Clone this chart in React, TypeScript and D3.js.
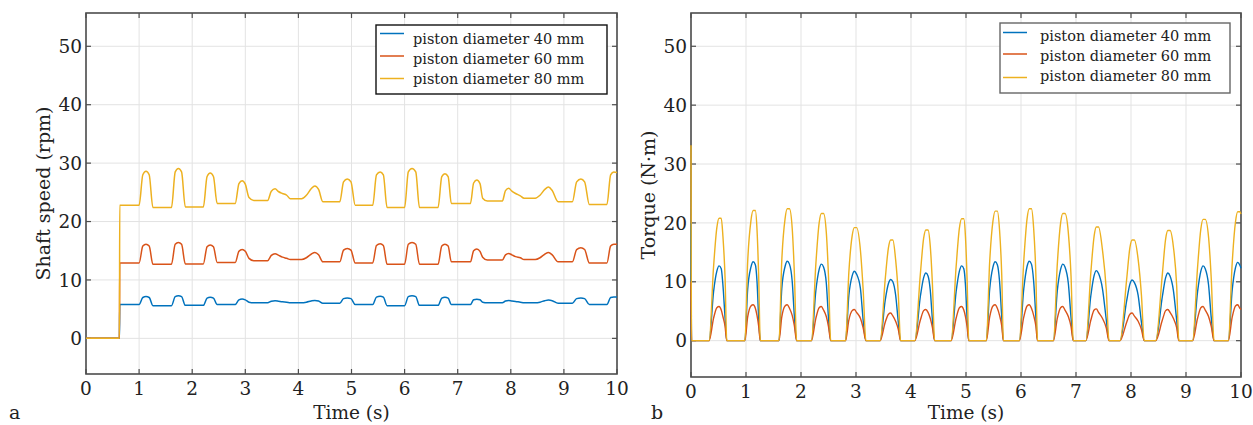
import React from 'react';
import * as d3 from 'd3';

const timeTicks = [0, 1, 2, 3, 4, 5, 6, 7, 8, 9, 10];
const valueTicks = [0, 10, 20, 30, 40, 50];
const seriesNames = ['piston diameter 40 mm', 'piston diameter 60 mm', 'piston diameter 80 mm'];
const seriesColors = ['#0072BD', '#D95319', '#EDB120'];

// Panel a: shaft speed (rpm)
const speedTime = [
  0, 0.63, 0.635,
  1.00, 1.07, 1.13, 1.19, 1.26,
  1.61, 1.68, 1.74, 1.80, 1.87,
  2.21, 2.28, 2.34, 2.40, 2.47,
  2.81, 2.88, 2.94, 3.00, 3.07, 3.16,
  3.42, 3.49, 3.56, 3.63, 3.70, 3.78, 3.85,
  4.06, 4.15, 4.24, 4.31, 4.38, 4.46,
  4.78, 4.85, 4.92, 4.99, 5.07,
  5.40, 5.47, 5.54, 5.60, 5.67,
  6.00, 6.07, 6.14, 6.21, 6.28,
  6.63, 6.70, 6.76, 6.82, 6.88,
  7.24, 7.30, 7.36, 7.42, 7.47, 7.56,
  7.84, 7.90, 7.96, 8.02, 8.09, 8.18, 8.25,
  8.46, 8.55, 8.64, 8.71, 8.78, 8.89,
  9.16, 9.24, 9.32, 9.39, 9.48,
  9.81, 9.88, 9.94, 10.0,
];
const speed40 = [
  0, 0, 5.8,
  5.8, 7.0, 7.15, 7.0, 5.6,
  5.6, 7.15, 7.3, 7.15, 5.65,
  5.65, 6.9, 7.05, 6.9, 5.8,
  5.8, 6.6, 6.75, 6.6, 6.2, 6.1,
  6.1, 6.35, 6.45, 6.35, 6.25, 6.2, 6.1,
  6.1, 6.2, 6.4, 6.5, 6.4, 6.0,
  6.0, 6.8, 6.9, 6.8, 5.8,
  5.8, 7.05, 7.2, 7.05, 5.6,
  5.6, 7.15, 7.3, 7.15, 5.65,
  5.65, 6.9, 7.05, 6.9, 5.8,
  5.8, 6.6, 6.7, 6.6, 6.2, 6.1,
  6.1, 6.4, 6.5, 6.4, 6.3, 6.2, 6.1,
  6.1, 6.2, 6.45, 6.55, 6.45, 6.0,
  6.0, 6.8, 6.9, 6.8, 5.8,
  5.8, 7.0, 7.1, 7.1,
];
const speed60 = [
  0, 0, 12.9,
  12.9, 15.8, 16.1, 15.8, 12.7,
  12.7, 16.1, 16.4, 16.1, 12.75,
  12.75, 15.7, 16.0, 15.7, 13.0,
  13.0, 14.9, 15.2, 14.9, 13.7, 13.3,
  13.3, 14.2, 14.5, 14.2, 13.9, 13.7, 13.5,
  13.5, 13.8, 14.4, 14.7, 14.3, 13.1,
  13.1, 15.1, 15.4, 15.1, 12.9,
  12.9, 15.9, 16.2, 15.9, 12.7,
  12.7, 16.1, 16.4, 16.1, 12.7,
  12.7, 15.8, 16.1, 15.8, 13.1,
  13.1, 15.0, 15.3, 14.9, 13.9, 13.4,
  13.4, 14.3, 14.55, 14.3, 14.0, 13.8, 13.5,
  13.5, 13.8, 14.4, 14.7, 14.3, 13.1,
  13.1, 15.2, 15.5, 15.2, 12.9,
  12.9, 15.8, 16.1, 16.1,
];
const speed80 = [
  0, 0, 22.8,
  22.8, 28.0, 28.6, 28.0, 22.4,
  22.4, 28.5, 29.1, 28.5, 22.5,
  22.5, 27.7, 28.3, 27.7, 23.1,
  23.1, 26.5, 27.0, 26.4, 24.1, 23.6,
  23.6, 25.2, 25.6, 25.1, 24.8, 24.5, 23.9,
  23.9, 24.5, 25.6, 26.1, 25.5, 23.4,
  23.4, 26.8, 27.3, 26.8, 22.8,
  22.8, 28.0, 28.5, 28.0, 22.4,
  22.4, 28.5, 29.1, 28.5, 22.4,
  22.4, 27.7, 28.2, 27.7, 23.1,
  23.1, 26.6, 27.1, 26.5, 24.0, 23.5,
  23.5, 25.3, 25.7, 25.2, 24.8, 24.4, 24.0,
  24.0, 24.5, 25.5, 25.9, 25.3, 23.4,
  23.4, 26.8, 27.3, 26.8, 22.9,
  22.9, 28.0, 28.5, 28.4,
];

// Panel b: torque (N·m)
const torqueTime = [
  0, 0.01,
  0.33, 0.41, 0.47, 0.51, 0.55, 0.58, 0.62, 0.65,
  0.98, 1.03, 1.09, 1.13, 1.17, 1.20, 1.23, 1.26,
  1.60, 1.65, 1.71, 1.75, 1.79, 1.84, 1.88, 1.92,
  2.19, 2.27, 2.33, 2.37, 2.41, 2.46, 2.50, 2.54,
  2.81, 2.87, 2.93, 2.97, 3.01, 3.08, 3.13, 3.18,
  3.44, 3.53, 3.59, 3.63, 3.67, 3.72, 3.77, 3.81,
  4.07, 4.17, 4.23, 4.27, 4.31, 4.35, 4.39, 4.43,
  4.73, 4.82, 4.88, 4.92, 4.96, 4.99, 5.02, 5.05,
  5.37, 5.43, 5.49, 5.53, 5.57, 5.61, 5.65, 5.68,
  5.97, 6.05, 6.11, 6.15, 6.19, 6.23, 6.27, 6.30,
  6.59, 6.66, 6.72, 6.76, 6.80, 6.86, 6.91, 6.95,
  7.18, 7.27, 7.33, 7.37, 7.41, 7.48, 7.55, 7.60,
  7.80, 7.92, 7.98, 8.02, 8.06, 8.13, 8.19, 8.24,
  8.45, 8.57, 8.63, 8.67, 8.71, 8.77, 8.83, 8.87,
  9.12, 9.21, 9.27, 9.31, 9.35, 9.41, 9.46, 9.51,
  9.77, 9.84, 9.90, 9.94, 9.98, 10.0,
];
const torque40 = [
  20, 0,
  0, 8.3, 11.8, 12.7, 12.2, 9.5, 3.8, 0,
  0, 8.7, 12.5, 13.4, 12.9, 10.1, 4.0, 0,
  0, 8.8, 12.6, 13.5, 13.0, 10.1, 4.1, 0,
  0, 8.5, 12.1, 13.0, 12.5, 9.8, 3.9, 0,
  0, 7.7, 11.0, 11.8, 11.3, 8.9, 3.5, 0,
  0, 6.8, 9.7, 10.4, 10.0, 7.8, 3.1, 0,
  0, 7.5, 10.7, 11.5, 11.0, 8.6, 3.5, 0,
  0, 8.3, 11.8, 12.7, 12.2, 9.5, 3.8, 0,
  0, 8.7, 12.5, 13.4, 12.9, 10.1, 4.0, 0,
  0, 8.8, 12.6, 13.5, 13.0, 10.1, 4.1, 0,
  0, 8.5, 12.1, 13.0, 12.5, 9.8, 3.9, 0,
  0, 7.7, 11.1, 11.9, 11.4, 8.9, 3.6, 0,
  0, 6.7, 9.6, 10.3, 9.9, 7.7, 3.1, 0,
  0, 7.5, 10.7, 11.5, 11.0, 8.6, 3.5, 0,
  0, 8.3, 11.8, 12.7, 12.2, 9.5, 3.8, 0,
  0, 8.6, 12.4, 13.3, 12.8, 12.3,
];
const torque60 = [
  10, 0,
  0, 3.8, 5.6, 5.8, 5.2, 4.1, 2.4, 0,
  0, 4.0, 5.9, 6.1, 5.5, 4.3, 2.5, 0,
  0, 4.0, 5.9, 6.1, 5.5, 4.3, 2.5, 0,
  0, 3.8, 5.6, 5.8, 5.2, 4.1, 2.4, 0,
  0, 3.5, 5.1, 5.3, 4.8, 3.8, 2.2, 0,
  0, 3.1, 4.5, 4.7, 4.2, 3.3, 1.9, 0,
  0, 3.5, 5.1, 5.3, 4.8, 3.8, 2.2, 0,
  0, 3.8, 5.6, 5.8, 5.2, 4.1, 2.4, 0,
  0, 4.0, 5.9, 6.1, 5.5, 4.3, 2.5, 0,
  0, 4.0, 5.9, 6.1, 5.5, 4.3, 2.5, 0,
  0, 3.8, 5.6, 5.8, 5.2, 4.1, 2.4, 0,
  0, 3.5, 5.2, 5.4, 4.8, 3.8, 2.2, 0,
  0, 3.1, 4.5, 4.7, 4.2, 3.3, 1.9, 0,
  0, 3.5, 5.1, 5.3, 4.8, 3.8, 2.2, 0,
  0, 3.8, 5.6, 5.8, 5.2, 4.1, 2.4, 0,
  0, 4.0, 5.9, 6.1, 5.5, 5.3,
];
const torque80 = [
  33.2, 0,
  0, 12.5, 19.2, 20.8, 20.8, 17.8, 10.5, 0,
  0, 13.3, 20.4, 22.1, 22.1, 18.9, 11.1, 0,
  0, 13.5, 20.7, 22.4, 22.4, 19.1, 11.3, 0,
  0, 13.0, 20.0, 21.6, 21.6, 18.4, 10.9, 0,
  0, 11.6, 17.8, 19.2, 19.2, 15.4, 8.7, 0,
  0, 10.3, 15.8, 17.1, 17.1, 13.8, 7.7, 0,
  0, 11.3, 17.4, 18.8, 18.8, 16.1, 9.5, 0,
  0, 12.5, 19.1, 20.7, 20.7, 17.7, 10.4, 0,
  0, 13.3, 20.3, 22.0, 22.0, 18.8, 11.1, 0,
  0, 13.5, 20.7, 22.4, 22.4, 19.1, 11.3, 0,
  0, 13.0, 20.0, 21.6, 21.6, 18.4, 10.9, 0,
  0, 11.6, 17.8, 19.3, 19.3, 15.5, 8.7, 0,
  0, 10.3, 15.8, 17.1, 17.1, 13.8, 7.7, 0,
  0, 11.3, 17.3, 18.7, 18.7, 16.0, 9.4, 0,
  0, 12.4, 19.0, 20.6, 20.6, 17.6, 10.4, 0,
  0, 13.2, 20.2, 21.9, 21.9, 21.5,
];

const FONT = '"DejaVu Serif", serif';

type PanelProps = {
  left: number; right: number; top: number; bottom: number;
  yDomain: [number, number];
  time: number[];
  series: number[][];
  yTitle: string;
  letter: string;
  letterX: number;
  legend: { x: number; y: number; w: number; h: number; stroke: string; lineX1: number; lineX2: number; textX: number; lineY: number[]; textY: number[] };
  lineWidth: number;
};

function Panel(p: PanelProps) {
  const x = d3.scaleLinear().domain([0, 10]).range([p.left, p.right]);
  const y = d3.scaleLinear().domain(p.yDomain).range([p.bottom, p.top]);
  const line = d3.line<number>()
    .x((_, i) => x(p.time[i]))
    .y((d) => y(d))
    .curve(d3.curveMonotoneX);
  const tick = 5;
  const axisColor = '#4d4d4d';
  return (
    <g>
      {timeTicks.map((t) => (
        <line key={'gx' + t} x1={x(t)} x2={x(t)} y1={p.top} y2={p.bottom} stroke="#e3e3e3" strokeWidth={1} />
      ))}
      {valueTicks.map((v) => (
        <line key={'gy' + v} x1={p.left} x2={p.right} y1={y(v)} y2={y(v)} stroke="#e3e3e3" strokeWidth={1} />
      ))}
      <rect x={p.left} y={p.top} width={p.right - p.left} height={p.bottom - p.top} fill="none" stroke={axisColor} strokeWidth={1.6} />
      {timeTicks.map((t) => (
        <g key={'tx' + t}>
          <line x1={x(t)} x2={x(t)} y1={p.bottom} y2={p.bottom - tick} stroke={axisColor} strokeWidth={1.2} />
          <line x1={x(t)} x2={x(t)} y1={p.top} y2={p.top + tick} stroke={axisColor} strokeWidth={1.2} />
          <text x={x(t)} y={p.bottom + 21} textAnchor="middle" fontFamily={FONT} fontSize={18.5} fill="#222">{t}</text>
        </g>
      ))}
      {valueTicks.map((v) => (
        <g key={'ty' + v}>
          <line x1={p.left} x2={p.left + tick} y1={y(v)} y2={y(v)} stroke={axisColor} strokeWidth={1.2} />
          <line x1={p.right} x2={p.right - tick} y1={y(v)} y2={y(v)} stroke={axisColor} strokeWidth={1.2} />
          <text x={p.left - 4} y={y(v)} dy="0.36em" textAnchor="end" fontFamily={FONT} fontSize={18.5} fill="#222">{v}</text>
        </g>
      ))}
      {p.series.map((s, i) => (
        <path key={'s' + i} d={line(s) || ''} fill="none" stroke={seriesColors[i]} strokeWidth={p.lineWidth} strokeLinejoin="round" />
      ))}
      <text x={(p.left + p.right) / 2} y={419} textAnchor="middle" fontFamily={FONT} fontSize={18.5} fill="#222">Time (s)</text>
      <text transform={`translate(${p.left - 36},${(p.top + p.bottom) / 2}) rotate(-90)`} textAnchor="middle" fontFamily={FONT} fontSize={19} fill="#222">{p.yTitle}</text>
      <text x={p.letterX} y={419} fontFamily={FONT} fontSize={19} fill="#222">{p.letter}</text>
      <rect x={p.legend.x} y={p.legend.y} width={p.legend.w} height={p.legend.h} fill="#fff" stroke={p.legend.stroke} strokeWidth={1.4} />
      {seriesNames.map((n, i) => (
        <g key={'lg' + i}>
          <line x1={p.legend.lineX1} x2={p.legend.lineX2} y1={p.legend.lineY[i]} y2={p.legend.lineY[i]} stroke={seriesColors[i]} strokeWidth={1.5} />
          <text x={p.legend.textX} y={p.legend.textY[i]} fontFamily={FONT} fontSize={14.5} fill="#222">{n}</text>
        </g>
      ))}
    </g>
  );
}

export default function App() {
  return (
    <svg width={1253} height={425} style={{ display: 'block', position: 'absolute', left: 0, top: 0, background: '#fff' }}>
      <rect x={0} y={0} width={1253} height={425} fill="#fff" />
      <Panel
        left={86} right={617} top={13} bottom={374}
        yDomain={[-6.1, 55.7]}
        time={speedTime}
        series={[speed40, speed60, speed80]}
        yTitle="Shaft speed (rpm)"
        letter="a" letterX={9}
        lineWidth={1.5}
        legend={{ x: 376, y: 25, w: 231, h: 69, stroke: '#111', lineX1: 380, lineX2: 404, textX: 413, lineY: [33.5, 56, 78.5], textY: [43.5, 63.5, 83.5] }}
      />
      <Panel
        left={691} right={1241} top={13} bottom={377}
        yDomain={[-6.17, 55.65]}
        time={torqueTime}
        series={[torque40, torque60, torque80]}
        yTitle="Torque (N·m)"
        letter="b" letterX={651}
        lineWidth={1.4}
        legend={{ x: 1000, y: 23, w: 230, h: 70, stroke: '#666', lineX1: 1003, lineX2: 1027, textX: 1040, lineY: [32.5, 54, 77.5], textY: [41, 61, 80.5] }}
      />
    </svg>
  );
}
